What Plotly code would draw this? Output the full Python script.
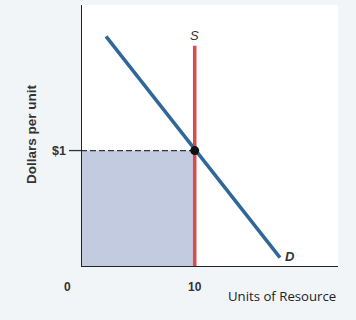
import plotly.graph_objects as go

# Data
demand_x = [2.2, 17.5]
demand_y = [1.98, 0.08]
supply_x = [10, 10]
supply_y = [0, 1.9]
eq_x = [10]
eq_y = [1.0]
x_ticks = [0, 10]
x_tick_labels = ["0", "10"]
y_ticks = [1.0]
y_tick_labels = ["$1"]

X_MAX = 22.6
Y_MAX = 2.25

fig = go.Figure()

# shaded area (total payment)
fig.add_trace(go.Scatter(x=[0, eq_x[0], eq_x[0], 0, 0], y=[0, 0, eq_y[0], eq_y[0], 0],
                         fill="toself", fillcolor="#c3cbe1", line=dict(width=0),
                         mode="lines", hoverinfo="skip", showlegend=False))
# dashed price line
fig.add_trace(go.Scatter(x=[0, eq_x[0]], y=[eq_y[0], eq_y[0]], mode="lines",
                         line=dict(color="#333333", width=1.3, dash="6px,3px"),
                         showlegend=False))
# supply
fig.add_trace(go.Scatter(x=supply_x, y=supply_y, mode="lines",
                         line=dict(color="#dc4a4a", width=3.5), showlegend=False))
# demand
fig.add_trace(go.Scatter(x=demand_x, y=demand_y, mode="lines",
                         line=dict(color="#2f679a", width=3.5), showlegend=False))
# equilibrium
fig.add_trace(go.Scatter(x=eq_x, y=eq_y, mode="markers",
                         marker=dict(color="#111111", size=9), showlegend=False))

# axis lines
fig.add_shape(type="line", x0=0, x1=0, y0=0, y1=Y_MAX, xref="x", yref="y",
              line=dict(color="#222222", width=2))
fig.add_shape(type="line", x0=0, x1=X_MAX, y0=0, y1=0, xref="x", yref="y",
              line=dict(color="#222222", width=2))
# tick at 10
fig.add_shape(type="line", x0=10, x1=10, y0=0, y1=-0.09, xref="x", yref="y",
              line=dict(color="#555555", width=1.2))
# tick at $1
fig.add_shape(type="line", x0=-12 / 257, x1=0, y0=1.0, y1=1.0, xref="paper", yref="y",
              line=dict(color="#333333", width=1.3))

font = dict(family="Liberation Sans, Arial, sans-serif", color="#333333")
fig.add_annotation(x=10, y=1.9, text="<i>S</i>", showarrow=False, yanchor="bottom",
                   yshift=1, font=dict(size=13, **font))
fig.add_annotation(x=demand_x[1], y=demand_y[1], text="<b><i>D</i></b>", showarrow=False,
                   xanchor="left", xshift=3, yshift=1, font=dict(size=13, **font))
fig.add_annotation(x=0, xref="paper", xshift=-13, y=y_ticks[0], text="<b>" + y_tick_labels[0] + "</b>",
                   showarrow=False, xanchor="right", font=dict(size=12.5, **font))
# x tick labels
fig.add_annotation(x=0, xref="paper", xshift=-19, y=0, yshift=-20, text="<b>" + x_tick_labels[0] + "</b>",
                   showarrow=False, font=dict(size=12, **font))
fig.add_annotation(x=x_ticks[1], y=0, yshift=-20, text="<b>" + x_tick_labels[1] + "</b>",
                   showarrow=False, font=dict(size=12, **font))
fig.add_annotation(x=1.0, xref="paper", y=0, yshift=-29, text="Units of Resource",
                   showarrow=False, xanchor="right",
                   font=dict(size=13.2, family="Open Sans, Arial, sans-serif", color="#222222"))
fig.add_annotation(x=0, xref="paper", xshift=-(81 - 32), xanchor="center", y=0.508, yref="paper",
                   text="<b>Dollars per unit</b>", textangle=-90, showarrow=False,
                   font=dict(size=13.5, **font))

fig.update_layout(
    width=356, height=320,
    margin=dict(l=81, r=18, t=5, b=53),
    paper_bgcolor="#f2f5f8", plot_bgcolor="#ffffff",
    xaxis=dict(range=[0, X_MAX], showgrid=False, zeroline=False, showticklabels=False,
               ticks="", showline=False, fixedrange=True),
    yaxis=dict(range=[0, Y_MAX], showgrid=False, zeroline=False, showticklabels=False,
               ticks="", showline=False, fixedrange=True),
)

fig.write_html("out.html")
